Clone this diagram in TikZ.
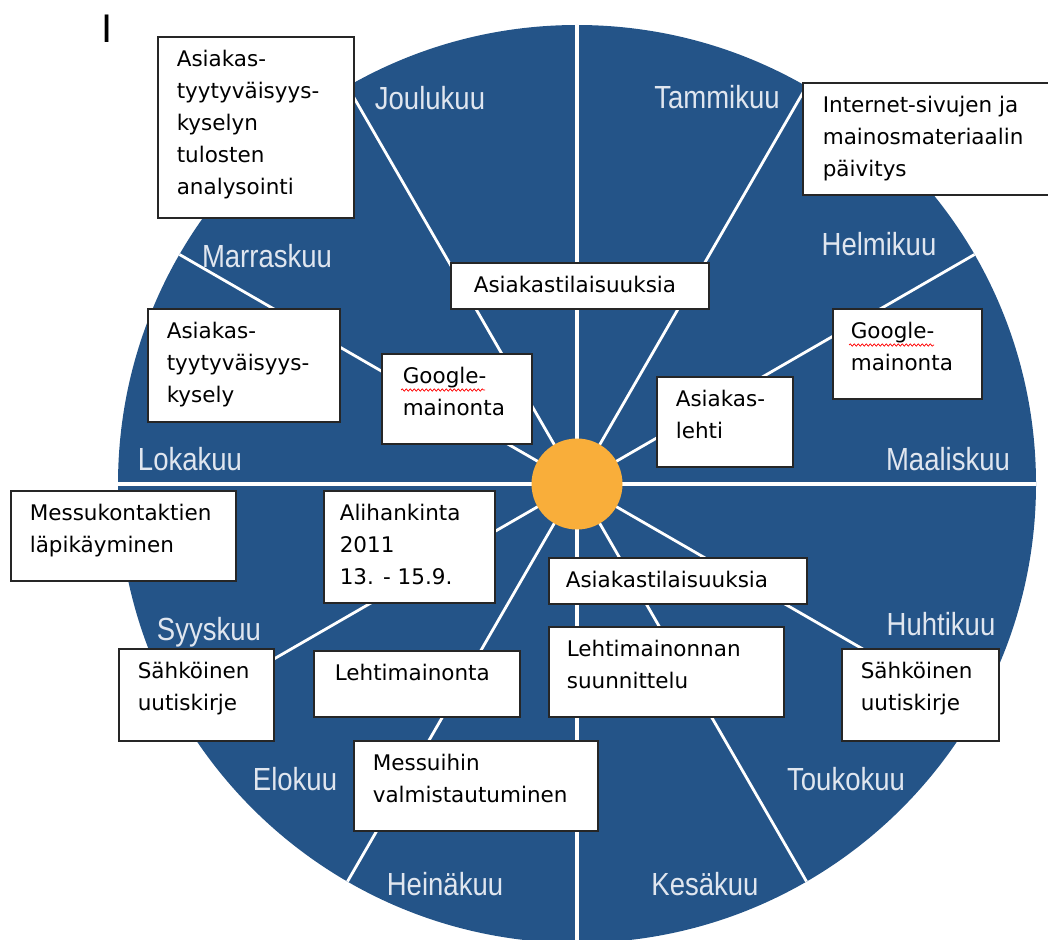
\documentclass[tikz,border=0pt]{standalone}
\usepackage{fontspec}
\setmainfont{DejaVu Sans}
\newfontfamily\monthfont[FakeStretch=0.86]{Liberation Sans}
\newfontfamily\cursorfont{Liberation Sans}
\usetikzlibrary{decorations.pathmorphing}

\definecolor{wheelblue}{RGB}{36,84,136}
\definecolor{sunorange}{RGB}{249,174,58}
\definecolor{monthgray}{RGB}{224,230,239}

% text block of a box: width, height, left indent, lines
\newcommand\boxtext[4]{%
  \parbox[c][#2pt][t]{#1pt}{\raggedright\leftskip=#3pt
    \fontsize{21.5}{32}\selectfont\rule{0pt}{30pt}#4\par}}

\tikzset{
  spoke/.style={draw=white, line width=2.8pt},
  axis/.style={draw=white, line width=3.2pt},
  month/.style={anchor=base, inner sep=0pt, text=monthgray,
    font=\monthfont\fontsize{32}{32}\selectfont},
  taskbox/.style={draw=black!85, line width=1.6pt, fill=white,
    inner sep=0pt, anchor=north west},
  squiggle/.style={draw=red, line width=0.7pt,
    decorate, decoration={snake, amplitude=1.2pt, segment length=4pt}}
}

\begin{document}
\begin{tikzpicture}[x=1pt, y=-1pt]
\useasboundingbox (0,0) rectangle (1048,939);

\coordinate (c) at (577,484);

% wheel
\fill[wheelblue] (c) circle (459pt);
\foreach \a in {30,60,120,150,210,240,300,330}
  \draw[spoke] (c) -- ++(\a:459);
\foreach \a in {0,90,180,270}
  \draw[axis] (c) -- ++(\a:459);

% sun in the middle
\node[circle, fill=sunorange, minimum size=91pt, inner sep=0pt] (sun) at (c) {};

% months
\node[month] (m01) at (717,109) {Tammikuu};
\node[month] (m02) at (879,255) {Helmikuu};
\node[month] (m03) at (948,470) {Maaliskuu};
\node[month] (m04) at (941,635) {Huhtikuu};
\node[month] (m05) at (846,790) {Toukokuu};
\node[month] (m06) at (705,895) {Kesäkuu};
\node[month] (m07) at (445,895) {Heinäkuu};
\node[month] (m08) at (295,790) {Elokuu};
\node[month] (m09) at (209,640) {Syyskuu};
\node[month] (m10) at (190,470) {Lokakuu};
\node[month] (m11) at (267,267) {Marraskuu};
\node[month] (m12) at (430,110) {Joulukuu};

% tasks
\node[taskbox] (analyysi) at (157,36)
  {\boxtext{196}{181}{19}{Asiakas-\\tyytyväisyys-\\kyselyn\\tulosten\\analysointi}};
\node[taskbox] (internet) at (802,82)
  {\boxtext{262}{112}{20}{Internet-sivujen ja\\mainosmateriaalin\\päivitys}};
\node[taskbox] (tilaisuus1) at (450,262)
  {\boxtext{258}{46}{23}{Asiakastilaisuuksia}};
\node[taskbox] (kysely) at (147,308)
  {\boxtext{192}{113}{19}{Asiakas-\\tyytyväisyys-\\kysely}};
\node[taskbox] (google1) at (381,353)
  {\boxtext{150}{90}{21}{Google-\\mainonta}};
\node[taskbox] (lehti) at (656,376)
  {\boxtext{136}{90}{19}{Asiakas-\\lehti}};
\node[taskbox] (google2) at (832,308)
  {\boxtext{149}{90}{18}{Google-\\mainonta}};
\node[taskbox] (messukontaktit) at (10,490)
  {\boxtext{225}{90}{19}{Messukontaktien\\läpikäyminen}};
\node[taskbox] (alihankinta) at (323,490)
  {\boxtext{171}{112}{16}{Alihankinta\\2011\\13. - 15.9.}};
\node[taskbox] (tilaisuus2) at (548,557)
  {\boxtext{258}{46}{17}{Asiakastilaisuuksia}};
\node[taskbox] (suunnittelu) at (548,626)
  {\boxtext{235}{90}{18}{Lehtimainonnan\\suunnittelu}};
\node[taskbox] (uutiskirje1) at (841,648)
  {\boxtext{157}{92}{19}{Sähköinen\\uutiskirje}};
\node[taskbox] (uutiskirje2) at (118,648)
  {\boxtext{155}{92}{19}{Sähköinen\\uutiskirje}};
\node[taskbox] (lehtimainonta) at (313,650)
  {\boxtext{206}{66}{21}{Lehtimainonta}};
\node[taskbox] (messut) at (353,740)
  {\boxtext{244}{90}{19}{Messuihin\\valmistautuminen}};

% spell-check marks under "Google"
\draw[squiggle] (401,390) -- (485,390);
\draw[squiggle] (849,345) -- (934,345);

% text cursor
\node[anchor=base, inner sep=0pt, font=\cursorfont\fontsize{40}{40}\selectfont] (cursor) at (107,43) {I};
\end{tikzpicture}
\end{document}
